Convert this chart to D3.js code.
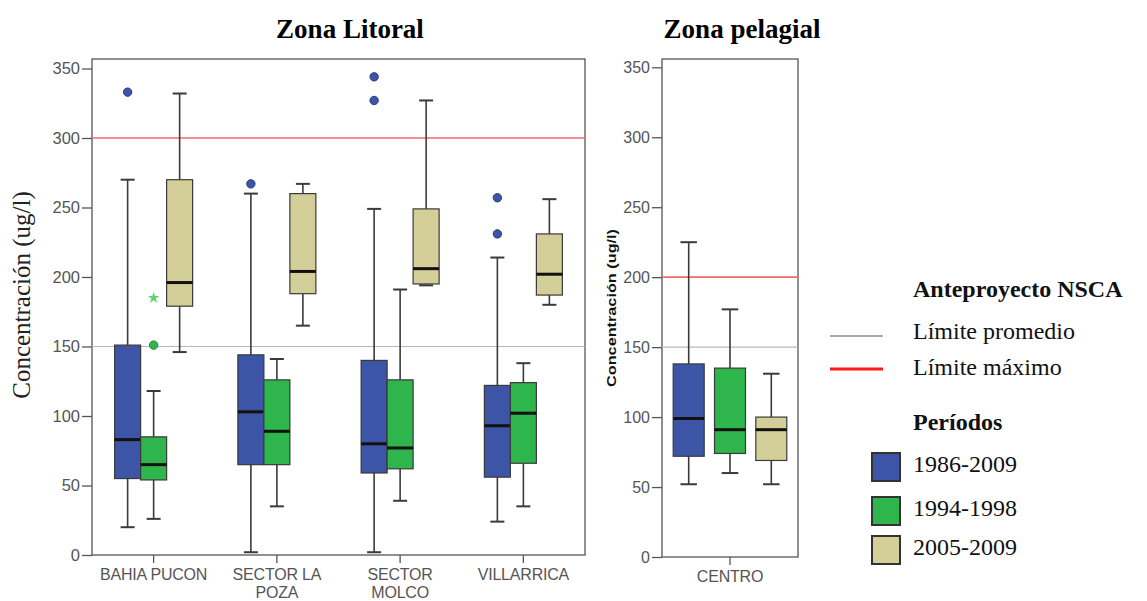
<!DOCTYPE html>
<html>
<head>
<meta charset="utf-8">
<script src="https://cdn.jsdelivr.net/npm/d3@7"></script>
<style>
  html, body { margin: 0; padding: 0; background: #fff; }
  svg { display: block; }
</style>
</head>
<body>
<svg id="chart" width="1147" height="601"></svg>
<script>
// Sampling sites and periods
const sites = ["BAHIA PUCON", "SECTOR LA POZA", "SECTOR MOLCO", "VILLARRICA"];
const pelagicSites = ["CENTRO"];
const periods = ["1986-2009", "1994-1998", "2005-2009"];
const periodColors = ["#3c55a6", "#2eb54b", "#d4cf99"];

// Five-number summaries [low whisker, Q1, median, Q3, high whisker], one row per site
const litoral1986 = [
  [20, 55, 83, 151, 270],
  [2, 65, 103, 144, 260],
  [2, 59, 80, 140, 249],
  [24, 56, 93, 122, 214]
];
const litoral1994 = [
  [26, 54, 65, 85, 118],
  [35, 65, 89, 126, 141],
  [39, 62, 77, 126, 191],
  [35, 66, 102, 124, 138]
];
const litoral2005 = [
  [146, 179, 196, 270, 332],
  [165, 188, 204, 260, 267],
  [194, 195, 206, 249, 327],
  [180, 187, 202, 231, 256]
];
const pelagic1986 = [[52, 72, 99, 138, 225]];
const pelagic1994 = [[60, 74, 91, 135, 177]];
const pelagic2005 = [[52, 69, 91, 100, 131]];

// Outlying observations: site index, period index, value, marker kind
const litoralOutliers = [
  { site: 0, period: 0, value: 333, kind: "circle" },
  { site: 0, period: 1, value: 151, kind: "circle" },
  { site: 0, period: 1, value: 185, kind: "star" },
  { site: 1, period: 0, value: 267, kind: "circle" },
  { site: 2, period: 0, value: 344, kind: "circle" },
  { site: 2, period: 0, value: 327, kind: "circle" },
  { site: 3, period: 0, value: 257, kind: "circle" },
  { site: 3, period: 0, value: 231, kind: "circle" }
];

const yTicks = [0, 50, 100, 150, 200, 250, 300, 350];
const litoralLimits = { mean: 150, max: 300 };
const pelagicLimits = { mean: 150, max: 200 };

const svg = d3.select("#chart");

function drawPanel(cfg) {
  const { x0, x1, y0, yTop, frameTop, cats, series, outliers, limits, boxW, step } = cfg;
  const g = svg.append("g");
  const y = d3.scaleLinear().domain([0, 350]).range([y0, yTop]);
  const x = d3.scaleBand().domain(cats).range([x0, x1]);

  // frame
  g.append("rect")
    .attr("x", x0).attr("y", frameTop)
    .attr("width", x1 - x0).attr("height", y0 - frameTop)
    .attr("fill", "none").attr("stroke", "#555").attr("stroke-width", 1.3);

  // y axis
  const yAxis = g.append("g")
    .attr("transform", `translate(${x0},0)`)
    .call(d3.axisLeft(y).tickValues(yTicks).tickSize(10).tickPadding(2));
  yAxis.select(".domain").remove();
  yAxis.selectAll(".tick line").attr("stroke", "#555").attr("stroke-width", 1.3);
  yAxis.selectAll(".tick text")
    .attr("fill", "#555").style("font-family", "Liberation Sans, Arial, sans-serif")
    .style("font-size", cfg.tickFont + "px");

  // x axis
  const xAxis = g.append("g")
    .attr("transform", `translate(0,${y0})`)
    .call(d3.axisBottom(x).tickSize(8).tickPadding(4));
  xAxis.select(".domain").remove();
  xAxis.selectAll(".tick line").attr("stroke", "#555").attr("stroke-width", 1.3);
  xAxis.selectAll(".tick text").remove();
  xAxis.selectAll(".tick").each(function (d) {
    const lines = cfg.wrap[d] || [d];
    const t = d3.select(this).append("text")
      .attr("fill", "#555")
      .attr("text-anchor", "middle")
      .style("font-family", "Liberation Sans, Arial, sans-serif")
      .style("font-size", "16px")
      .style("letter-spacing", "-0.2px");
    lines.forEach((ln, i) => {
      t.append("tspan").attr("x", 0).attr("y", 25 + i * 18).text(ln);
    });
  });

  // reference limits
  g.append("line")
    .attr("x1", x0).attr("x2", x1)
    .attr("y1", y(limits.mean)).attr("y2", y(limits.mean))
    .attr("stroke", "#b8b8b8").attr("stroke-width", 1.2);
  g.append("line")
    .attr("x1", x0).attr("x2", x1)
    .attr("y1", y(limits.max)).attr("y2", y(limits.max))
    .attr("stroke", "#f26a6a").attr("stroke-width", 1.6);

  // boxes
  series.forEach((rows, p) => {
    rows.forEach((s, i) => {
      const cx = x(cats[i]) + x.bandwidth() / 2 + (p - 1) * step;
      const [lo, q1, med, q3, hi] = s;
      const cap = boxW / 2;
      const wg = g.append("g");
      wg.append("line")
        .attr("x1", cx).attr("x2", cx).attr("y1", y(hi)).attr("y2", y(q3))
        .attr("stroke", "#3a3a3a").attr("stroke-width", 1.6);
      wg.append("line")
        .attr("x1", cx).attr("x2", cx).attr("y1", y(q1)).attr("y2", y(lo))
        .attr("stroke", "#3a3a3a").attr("stroke-width", 1.6);
      [hi, lo].forEach(v => {
        wg.append("line")
          .attr("x1", cx - cap / 2 - 0.5).attr("x2", cx + cap / 2 + 0.5)
          .attr("y1", y(v)).attr("y2", y(v))
          .attr("stroke", "#3a3a3a").attr("stroke-width", 2);
      });
      wg.append("rect")
        .attr("x", cx - boxW / 2).attr("y", y(q3))
        .attr("width", boxW).attr("height", y(q1) - y(q3))
        .attr("fill", periodColors[p]).attr("stroke", "#3a3a3a").attr("stroke-width", 1.2);
      wg.append("line")
        .attr("x1", cx - boxW / 2).attr("x2", cx + boxW / 2)
        .attr("y1", y(med)).attr("y2", y(med))
        .attr("stroke", "#111").attr("stroke-width", 3);
    });
  });

  // outliers
  (outliers || []).forEach(o => {
    const cx = x(cats[o.site]) + x.bandwidth() / 2 + (o.period - 1) * step;
    if (o.kind === "circle") {
      g.append("circle")
        .attr("cx", cx).attr("cy", y(o.value)).attr("r", 4.2)
        .attr("fill", periodColors[o.period])
        .attr("stroke", o.period === 0 ? "#2a3a80" : "#1f8a37").attr("stroke-width", 1);
    } else {
      g.append("path")
        .attr("d", d3.symbol(d3.symbolStar, 40)())
        .attr("transform", `translate(${cx},${y(o.value)})`)
        .attr("fill", "#5fd36b");
    }
  });
  return { x, y };
}

drawPanel({
  x0: 92, x1: 585, y0: 555, yTop: 68.5, frameTop: 59,
  cats: sites, series: [litoral1986, litoral1994, litoral2005],
  outliers: litoralOutliers, limits: litoralLimits,
  boxW: 26, step: 26, tickFont: 16.5,
  wrap: { "SECTOR LA POZA": ["SECTOR LA", "POZA"], "SECTOR MOLCO": ["SECTOR", "MOLCO"] }
});

drawPanel({
  x0: 662, x1: 798, y0: 557, yTop: 67.3, frameTop: 59,
  cats: pelagicSites, series: [pelagic1986, pelagic1994, pelagic2005],
  outliers: [], limits: pelagicLimits,
  boxW: 31, step: 41.3, tickFont: 16,
  wrap: {}
});

// panel titles
const serif = "Liberation Serif, Times New Roman, serif";
svg.append("text").attr("x", 350).attr("y", 38).attr("text-anchor", "middle")
  .style("font-family", serif).style("font-weight", "bold").style("font-size", "27px")
  .text("Zona Litoral");
svg.append("text").attr("x", 742).attr("y", 38).attr("text-anchor", "middle")
  .style("font-family", serif).style("font-weight", "bold").style("font-size", "27px")
  .text("Zona pelagial");

// y-axis titles
svg.append("text")
  .attr("transform", "translate(30,295) rotate(-90)")
  .attr("text-anchor", "middle").attr("fill", "#222")
  .style("font-family", serif).style("font-size", "25px")
  .text("Concentración (ug/l)");
svg.append("text")
  .attr("transform", "translate(616,308) rotate(-90)")
  .attr("text-anchor", "middle").attr("fill", "#111")
  .style("font-family", "Liberation Sans, Arial, sans-serif")
  .style("font-weight", "bold").style("font-size", "13px")
  .attr("textLength", 158).attr("lengthAdjust", "spacingAndGlyphs")
  .text("Concentración (ug/l)");

// legend
const lg = svg.append("g").style("font-family", serif).attr("fill", "#111");
lg.append("text").attr("x", 913).attr("y", 297).style("font-weight", "bold").style("font-size", "24px")
  .text("Anteproyecto NSCA");
lg.append("line").attr("x1", 830).attr("x2", 883).attr("y1", 336).attr("y2", 336)
  .attr("stroke", "#a8a8a8").attr("stroke-width", 2.2);
lg.append("text").attr("x", 913).attr("y", 339).style("font-size", "24px").text("Límite promedio");
lg.append("line").attr("x1", 830).attr("x2", 883).attr("y1", 369).attr("y2", 369)
  .attr("stroke", "#ff1a1a").attr("stroke-width", 3);
lg.append("text").attr("x", 913).attr("y", 375).style("font-size", "24px").text("Límite máximo");
lg.append("text").attr("x", 913).attr("y", 430).style("font-weight", "bold").style("font-size", "24px")
  .text("Períodos");
const legendRows = [472, 516, 555];
periods.forEach((p, i) => {
  lg.append("rect").attr("x", 872).attr("y", legendRows[i] - 19)
    .attr("width", 28).attr("height", 28)
    .attr("fill", periodColors[i]).attr("stroke", "#333").attr("stroke-width", 2);
  lg.append("text").attr("x", 913).attr("y", legendRows[i]).style("font-size", "24px").text(p);
});
</script>
</body>
</html>
